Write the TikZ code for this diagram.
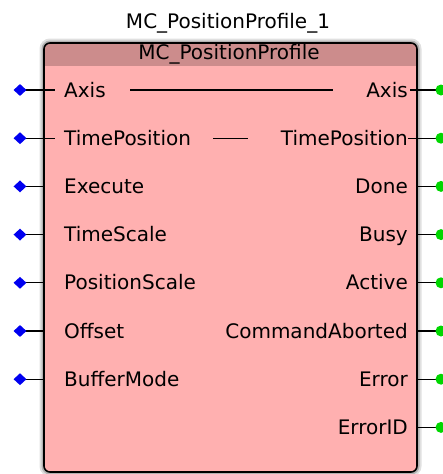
\documentclass[tikz,border=0pt]{standalone}
\usepackage{fontspec}
\setmainfont{DejaVu Sans}
\usetikzlibrary{shapes.geometric}
\definecolor{bodyc}{RGB}{255,176,176}
\definecolor{headc}{RGB}{204,140,140}
\definecolor{inpin}{RGB}{0,0,240}
\definecolor{outpin}{RGB}{0,215,0}
\tikzset{
  lab/.style={inner sep=0pt, text=black},
  wire/.style={line width=1.3pt, black},
  indot/.style={diamond, fill=inpin, inner sep=0pt, minimum width=13pt, minimum height=12pt},
  outdot/.style={circle, fill=outpin, inner sep=0pt, minimum size=11pt},
  blockedge/.style={rounded corners=6pt}
}
\begin{document}
\begin{tikzpicture}[x=1pt,y=-1pt, font=\fontsize{20}{23}\selectfont]
\useasboundingbox (0,0) rectangle (443,474);
% title
\node[lab] (inst) at (228,23) {MC\_PositionProfile\_1};
% shadow
\draw[line width=9pt, black!12, blockedge] (44,43) rectangle (417,472);
\draw[line width=5pt, black!30, blockedge] (44,43) rectangle (417,472);
% body
\fill[bodyc, blockedge] (44,43) rectangle (417,472);
\begin{scope}
  \clip[blockedge] (44,43) rectangle (417,472);
  \fill[headc] (44,43) rectangle (417,66);
\end{scope}
\draw[line width=1.6pt, black, blockedge] (44,43) rectangle (417,472);
\node[lab] (ftype) at (229,54) {MC\_PositionProfile};
% rows
\foreach \i/\l/\r in {0/Axis/Axis,1/TimePosition/TimePosition,2/Execute/Done,3/TimeScale/Busy,4/PositionScale/Active,5/Offset/CommandAborted,6/BufferMode/Error}{
  \pgfmathsetmacro\yy{90+48.2*\i}
  \coordinate (lp\i) at (45,\yy);
  \coordinate (rp\i) at (417,\yy);
  \coordinate (inc\i) at (20,\yy);
  \coordinate (outc\i) at (441,\yy);
  \draw[wire] (inc\i) -- (lp\i);
  \draw[wire] (rp\i) -- (outc\i);
  \node[indot] (in\i) at (inc\i) {};
  \node[outdot] (out\i) at (outc\i) {};
  \node[lab, anchor=base west] (tl\i) at (64,\yy+7) {\l};
  \node[lab, anchor=base east] (tr\i) at (408,\yy+7) {\r};
}
% ErrorID output
\coordinate (rp7) at (417,427.4);
\coordinate (outc7) at (441,427.4);
\draw[wire] (rp7) -- (outc7);
\node[outdot] (out7) at (outc7) {};
\node[lab, anchor=base east] (tr7) at (408,434.4) {ErrorID};
% in-out pin extensions
\coordinate (lx0) at (55,90);
\coordinate (rx0) at (410,90);
\coordinate (lx1) at (55,138.2);
\coordinate (rx1) at (408,138.2);
\draw[wire] (lp0) -- (lx0);
\draw[wire] (rx0) -- (rp0);
\draw[wire] (lp1) -- (lx1);
\draw[wire] (rx1) -- (rp1);
% through lines
\coordinate (ta) at (130,90);
\coordinate (tb) at (333,90);
\coordinate (tc) at (213,138.2);
\coordinate (td) at (248,138.2);
\draw[wire] (ta) -- (tb);
\draw[wire] (tc) -- (td);
\end{tikzpicture}
\end{document}
